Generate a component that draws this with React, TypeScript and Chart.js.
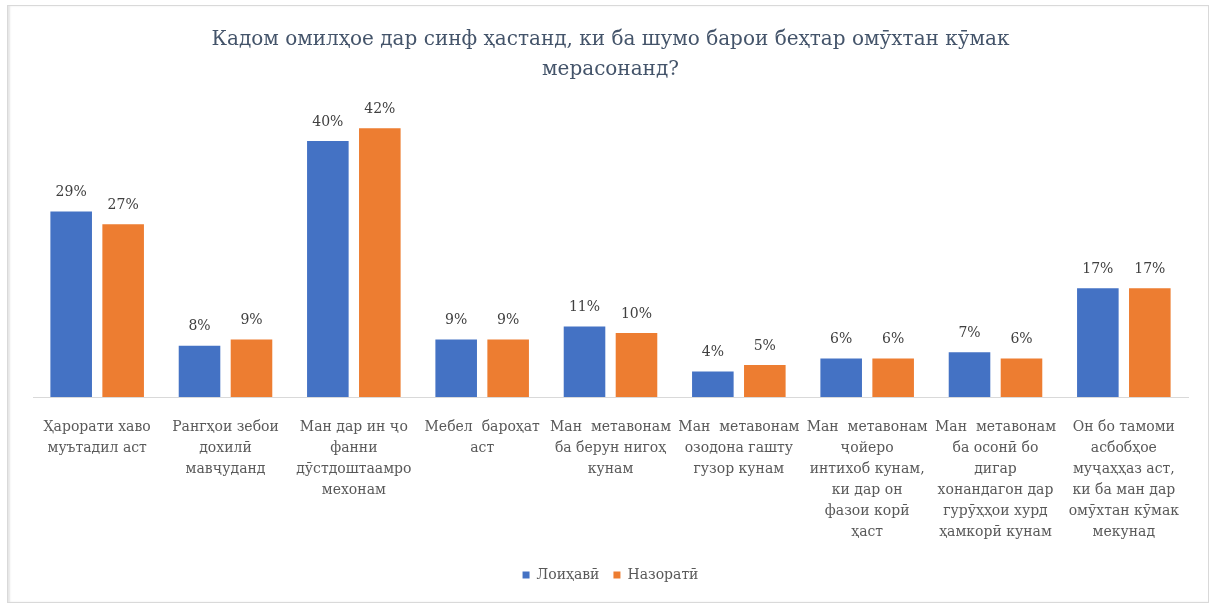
import React, { useEffect, useRef } from "react";
import { Chart, registerables } from "chart.js";

Chart.register(...registerables);

const titleLines = [
  "Кадом омилҳое дар синф ҳастанд, ки ба шумо барои беҳтар омӯхтан кӯмак",
  "мерасонанд?",
];

const categories: string[][] = [
  ["Ҳарорати хаво", "муътадил аст"],
  ["Рангҳои зебои", "дохилӣ", "мавҷуданд"],
  ["Ман дар ин ҷо", "фанни", "дӯстдоштаамро", "мехонам"],
  ["Мебел  бароҳат", "аст"],
  ["Ман  метавонам", "ба берун нигоҳ", "кунам"],
  ["Ман  метавонам", "озодона гашту", "гузор кунам"],
  ["Ман  метавонам", "ҷойеро", "интихоб кунам,", "ки дар он", "фазои корӣ", "ҳаст"],
  ["Ман  метавонам", "ба осонӣ бо", "дигар", "хонандагон дар", "гурӯҳҳои хурд", "ҳамкорӣ кунам"],
  ["Он бо тамоми", "асбобҳое", "муҷаҳҳаз аст,", "ки ба ман дар", "омӯхтан кӯмак", "мекунад"],
];

const seriesNames = ["Лоиҳавӣ", "Назоратӣ"];
const projectValues = [29, 8, 40, 9, 11, 4, 6, 7, 17];
const controlValues = [27, 9, 42, 9, 10, 5, 6, 6, 17];

const SERIF = "'DejaVu Serif', 'Liberation Serif', serif";

const dataLabelPlugin = {
  id: "dataLabels",
  afterDatasetsDraw(chart: any) {
    const ctx = chart.ctx;
    ctx.save();
    ctx.font = `14px ${SERIF}`;
    ctx.fillStyle = "#404040";
    ctx.textAlign = "center";
    ctx.textBaseline = "middle";
    chart.data.datasets.forEach((ds: any, di: number) => {
      const meta = chart.getDatasetMeta(di);
      meta.data.forEach((bar: any, i: number) => {
        ctx.fillText(`${ds.data[i]}%`, bar.x, bar.y - 19);
      });
    });
    ctx.restore();
  },
};

export default function App() {
  const ref = useRef<HTMLCanvasElement>(null);

  useEffect(() => {
    if (!ref.current) return;
    const chart = new Chart(ref.current, {
      type: "bar",
      data: {
        labels: categories,
        datasets: [
          {
            label: seriesNames[0],
            data: projectValues,
            backgroundColor: "#4472C4",
            barPercentage: 0.8,
            categoryPercentage: 0.81,
          },
          {
            label: seriesNames[1],
            data: controlValues,
            backgroundColor: "#ED7D31",
            barPercentage: 0.8,
            categoryPercentage: 0.81,
          },
        ],
      },
      options: {
        responsive: false,
        animation: false,
        layout: { padding: { top: 15, left: 33, right: 24, bottom: 12 } },
        plugins: {
          title: {
            display: true,
            text: titleLines,
            color: "#44546A",
            font: { family: SERIF, size: 20, weight: "normal", lineHeight: 1.5 },
            padding: { top: 10, bottom: 24 },
          },
          legend: {
            position: "bottom",
            labels: {
              boxWidth: 7,
              boxHeight: 7,
              color: "#595959",
              font: { family: SERIF, size: 14 },
              padding: 14,
            },
          },
          tooltip: { enabled: false },
        },
        scales: {
          x: {
            grid: { display: false, drawTicks: false },
            border: { display: true, color: "#D9D9D9", width: 1 },
            ticks: {
              color: "#595959",
              font: { family: SERIF, size: 14, lineHeight: 1.5 },
              padding: 20,
              maxRotation: 0,
              autoSkip: false,
            },
            afterFit: (axis: any) => {
              axis.height = 157;
            },
          },
          y: {
            display: false,
            min: 0,
            max: 45,
          },
        },
      },
      plugins: [dataLabelPlugin],
    });
    return () => chart.destroy();
  }, []);

  return (
    <div style={{ position: "absolute", left: 0, top: 0, width: 1212, height: 604, background: "#fff" }}>
      <div
        style={{
          position: "absolute",
          left: 7,
          top: 5,
          width: 1200,
          height: 596,
          border: "1px solid #D9D9D9",
          boxShadow: "inset 2px 0 2px #E6E6E6",
        }}
      />
      <canvas ref={ref} width={1212} height={604} style={{ position: "absolute", left: 0, top: 0 }} />
    </div>
  );
}
